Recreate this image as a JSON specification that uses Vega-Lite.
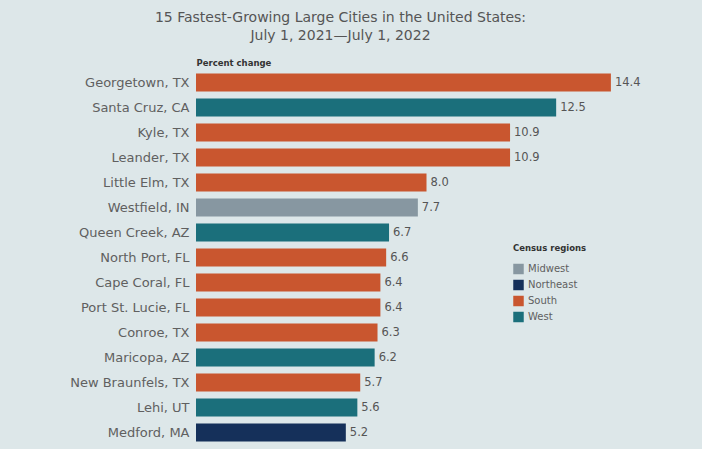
{
  "$schema": "https://vega.github.io/schema/vega-lite/v6.json",
  "autosize": "none",
  "width": 461,
  "height": 375,
  "padding": {"left": 196, "top": 70, "right": 45, "bottom": 4},
  "background": "#dde7e9",
  "config": {"view": {"stroke": null}},
  "title": {
    "text": ["15 Fastest-Growing Large Cities in the United States:", "July 1, 2021\u2014July 1, 2022"],
    "fontSize": 14,
    "fontWeight": "normal",
    "font": "DejaVu Sans",
    "color": "#555555",
    "lineHeight": 18,
    "anchor": "middle",
    "dx": -86,
    "offset": 15
  },
  "data": {
    "values": [
      {"city": "Georgetown, TX", "pct": 14.4, "region": "South"},
      {"city": "Santa Cruz, CA", "pct": 12.5, "region": "West"},
      {"city": "Kyle, TX", "pct": 10.9, "region": "South"},
      {"city": "Leander, TX", "pct": 10.9, "region": "South"},
      {"city": "Little Elm, TX", "pct": 8.0, "region": "South"},
      {"city": "Westfield, IN", "pct": 7.7, "region": "Midwest"},
      {"city": "Queen Creek, AZ", "pct": 6.7, "region": "West"},
      {"city": "North Port, FL", "pct": 6.6, "region": "South"},
      {"city": "Cape Coral, FL", "pct": 6.4, "region": "South"},
      {"city": "Port St. Lucie, FL", "pct": 6.4, "region": "South"},
      {"city": "Conroe, TX", "pct": 6.3, "region": "South"},
      {"city": "Maricopa, AZ", "pct": 6.2, "region": "West"},
      {"city": "New Braunfels, TX", "pct": 5.7, "region": "South"},
      {"city": "Lehi, UT", "pct": 5.6, "region": "West"},
      {"city": "Medford, MA", "pct": 5.2, "region": "Northeast"}
    ]
  },
  "encoding": {
    "y": {
      "field": "city",
      "type": "nominal",
      "sort": null,
      "scale": {"paddingInner": 0.28, "paddingOuter": 0.14},
      "axis": {
        "title": null,
        "ticks": false,
        "domain": false,
        "labelPadding": 7,
        "labelFontSize": 13,
        "labelFont": "DejaVu Sans",
        "labelColor": "#606060"
      }
    },
    "x": {
      "field": "pct",
      "type": "quantitative",
      "scale": {"domain": [0, 16], "nice": false},
      "axis": {
        "orient": "top",
        "labels": false,
        "ticks": false,
        "domain": false,
        "grid": false,
        "title": "Percent change",
        "titleAnchor": "start",
        "titleFontSize": 8.5,
        "titleFontWeight": "bold",
        "titleFont": "DejaVu Sans",
        "titleColor": "#333333",
        "titlePadding": 3
      }
    }
  },
  "layer": [
    {
      "mark": {"type": "bar"},
      "encoding": {
        "color": {
          "field": "region",
          "type": "nominal",
          "scale": {
            "domain": ["Midwest", "Northeast", "South", "West"],
            "range": ["#8797a1", "#15305a", "#c9562f", "#1b6f7b"]
          },
          "legend": {
            "title": "Census regions",
            "orient": "none",
            "legendX": 317,
            "legendY": 174,
            "titleFontSize": 8.5,
            "titleFontWeight": "bold",
            "titleFont": "DejaVu Sans",
            "titleColor": "#333333",
            "titlePadding": 11,
            "labelFontSize": 10,
            "labelFont": "DejaVu Sans",
            "labelColor": "#606060",
            "symbolType": "square",
            "symbolSize": 110,
            "symbolStrokeWidth": 0,
            "rowPadding": 5
          }
        }
      }
    },
    {
      "mark": {"type": "text", "align": "left", "dx": 4, "fontSize": 11.5, "font": "DejaVu Sans", "color": "#555555"},
      "encoding": {
        "text": {"field": "pct", "type": "quantitative", "format": ".1f"}
      }
    }
  ]
}
